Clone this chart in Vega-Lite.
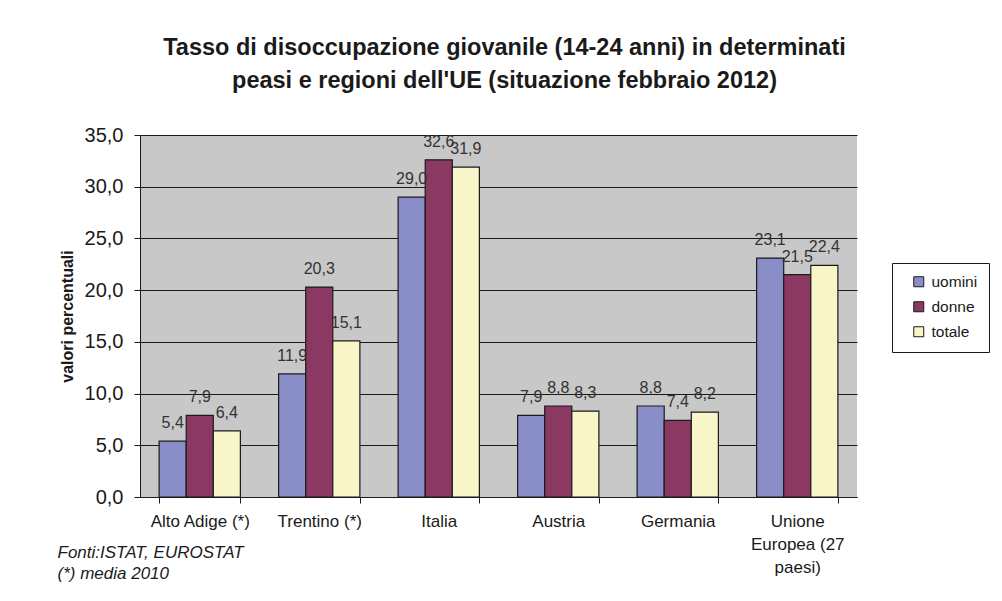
{
  "$schema": "https://vega.github.io/schema/vega-lite/v6.json",
  "width": 717,
  "height": 362,
  "autosize": {"type": "none"},
  "padding": {"left": 140, "top": 135, "right": 145, "bottom": 104},
  "background": "white",
  "title": {
    "text": ["Tasso di disoccupazione giovanile (14-24 anni) in determinati", "peasi e regioni dell'UE (situazione febbraio 2012)"],
    "font": "Liberation Sans",
    "fontSize": 23.5,
    "fontWeight": "bold",
    "color": "#1a1a1a",
    "lineHeight": 33,
    "anchor": "middle",
    "dx": 6,
    "offset": 33
  },
  "data": {
    "values": [
      {"paese": "Alto Adige (*)", "gruppo": "uomini", "valore": 5.4},
      {"paese": "Alto Adige (*)", "gruppo": "donne", "valore": 7.9},
      {"paese": "Alto Adige (*)", "gruppo": "totale", "valore": 6.4},
      {"paese": "Trentino (*)", "gruppo": "uomini", "valore": 11.9},
      {"paese": "Trentino (*)", "gruppo": "donne", "valore": 20.3},
      {"paese": "Trentino (*)", "gruppo": "totale", "valore": 15.1},
      {"paese": "Italia", "gruppo": "uomini", "valore": 29.0},
      {"paese": "Italia", "gruppo": "donne", "valore": 32.6},
      {"paese": "Italia", "gruppo": "totale", "valore": 31.9},
      {"paese": "Austria", "gruppo": "uomini", "valore": 7.9},
      {"paese": "Austria", "gruppo": "donne", "valore": 8.8},
      {"paese": "Austria", "gruppo": "totale", "valore": 8.3},
      {"paese": "Germania", "gruppo": "uomini", "valore": 8.8},
      {"paese": "Germania", "gruppo": "donne", "valore": 7.4},
      {"paese": "Germania", "gruppo": "totale", "valore": 8.2},
      {"paese": "Unione Europea (27 paesi)", "gruppo": "uomini", "valore": 23.1},
      {"paese": "Unione Europea (27 paesi)", "gruppo": "donne", "valore": 21.5},
      {"paese": "Unione Europea (27 paesi)", "gruppo": "totale", "valore": 22.4}
    ]
  },
  "encoding": {
    "x": {
      "field": "paese",
      "type": "nominal",
      "sort": null,
      "scale": {"paddingInner": 0.32, "paddingOuter": 0.16},
      "axis": {
        "title": ["Fonti:ISTAT, EUROSTAT", "(*) media 2010"],
        "titleFont": "Liberation Sans",
        "titleFontSize": 17,
        "titleFontStyle": "italic",
        "titleFontWeight": "normal",
        "titleColor": "#1a1a1a",
        "titleAlign": "left",
        "titleAnchor": "start",
        "titleBaseline": "middle",
        "titleLineHeight": 21,
        "titleX": -83,
        "titleY": 55,
        "labelAngle": 0,
        "labelFont": "Liberation Sans",
        "labelFontSize": 17,
        "labelColor": "#1a1a1a",
        "labelPadding": 18,
        "labelLineHeight": 23,
        "labelBaseline": "middle",
        "labelExpr": "datum.label == 'Unione Europea (27 paesi)' ? ['Unione', 'Europea (27', 'paesi)'] : datum.label",
        "tickBand": "extent",
        "tickSize": 6,
        "tickColor": "#1a1a1a",
        "domainColor": "#1a1a1a",
        "grid": false
      }
    },
    "xOffset": {"field": "gruppo", "type": "nominal", "sort": ["uomini", "donne", "totale"], "scale": {"paddingInner": 0, "paddingOuter": 0}},
    "y": {
      "field": "valore",
      "type": "quantitative",
      "scale": {"domain": [0, 35], "nice": false},
      "axis": {
        "title": "valori percentuali",
        "titleFont": "Liberation Sans",
        "titleFontSize": 16,
        "titleFontWeight": "bold",
        "titleColor": "#1a1a1a",
        "titlePadding": 9,
        "values": [0, 5, 10, 15, 20, 25, 30, 35],
        "labelExpr": "replace(format(datum.value, '.1f'), '.', ',')",
        "labelFont": "Liberation Sans",
        "labelFontSize": 20,
        "labelColor": "#1a1a1a",
        "labelPadding": 11,
        "tickSize": 6,
        "tickColor": "#1a1a1a",
        "domainColor": "#1a1a1a",
        "grid": true,
        "gridColor": "#1a1a1a",
        "gridWidth": 1
      }
    }
  },
  "layer": [
    {
      "mark": {"type": "bar", "stroke": "#1a1a1a", "strokeWidth": 1.2},
      "encoding": {
        "color": {
          "field": "gruppo",
          "type": "nominal",
          "sort": ["uomini", "donne", "totale"],
          "scale": {"domain": ["uomini", "donne", "totale"], "range": ["#8A8EC8", "#8B3962", "#F8F6C8"]},
          "legend": {
            "title": null,
            "orient": "none",
            "legendX": 752,
            "legendY": 128,
            "strokeColor": "#1a1a1a",
            "padding": 11,
            "symbolOffset": 8,
            "symbolType": "square",
            "symbolSize": 100,
            "symbolStrokeColor": "#1a1a1a",
            "symbolStrokeWidth": 1,
            "labelFont": "Liberation Sans",
            "labelFontSize": 15.5,
            "labelColor": "#1a1a1a",
            "rowPadding": 8,
            "labelOffset": 5
          }
        }
      }
    },
    {
      "mark": {"type": "text", "baseline": "alphabetic", "dy": -13, "font": "Liberation Sans", "fontSize": 16, "color": "#333333"},
      "encoding": {
        "text": {"field": "valore", "type": "quantitative", "format": ".1f", "formatType": "number"}
      }
    }
  ],
  "config": {
    "view": {"fill": "#C8C8C8", "stroke": null},
    "locale": {"number": {"decimal": ",", "thousands": ".", "grouping": [3], "currency": ["€", ""]}}
  }
}
